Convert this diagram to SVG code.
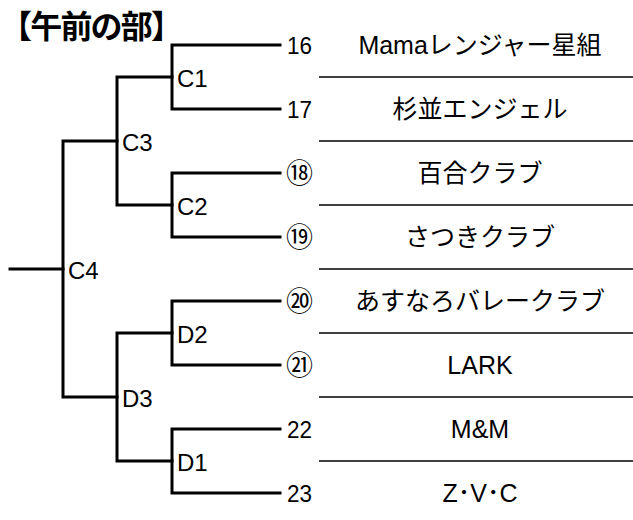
<svg xmlns="http://www.w3.org/2000/svg" width="633" height="520" viewBox="0 0 633 520">
<style>
.br{fill:none;stroke:#000;stroke-width:3;stroke-linecap:square;stroke-linejoin:miter}
.dv{stroke:#000;stroke-width:1.5}
.lb{font-family:"Liberation Sans","Noto Sans CJK JP",sans-serif;font-size:24px;fill:#000}
.num{font-family:"Liberation Sans","Noto Sans CJK JP",sans-serif;font-size:24px;fill:#000}
.cn{font-family:"Noto Sans CJK JP",sans-serif;font-size:27px;fill:#000}
.nm{font-family:"Liberation Sans","Noto Sans CJK JP",sans-serif;font-size:25px;fill:#000;text-anchor:middle}
.tt{font-family:"Noto Sans CJK JP",sans-serif;font-size:32px;font-weight:bold;fill:#000}
</style>
<rect width="633" height="520" fill="#fff"/>
<text class="tt" x="0" y="38" textLength="183" lengthAdjust="spacing">【午前の部】</text>
<g id="connectors">
<path class="br" d="M280,45 H172 V109 H280"/>
<path class="br" d="M280,173 H172 V237 H280"/>
<path class="br" d="M280,301 H172 V365 H280"/>
<path class="br" d="M280,429 H172 V493 H280"/>
<path class="br" d="M172,77 H117 V205 H172"/>
<path class="br" d="M172,333 H117 V461 H172"/>
<path class="br" d="M117,141 H63 V397 H117"/>
<path class="br" d="M10,269 H63"/>
</g>
<g id="dividers">
<line class="dv" x1="319" y1="77" x2="633" y2="77"/>
<line class="dv" x1="319" y1="141" x2="633" y2="141"/>
<line class="dv" x1="319" y1="205" x2="633" y2="205"/>
<line class="dv" x1="319" y1="269" x2="633" y2="269"/>
<line class="dv" x1="319" y1="333" x2="633" y2="333"/>
<line class="dv" x1="319" y1="397" x2="633" y2="397"/>
<line class="dv" x1="319" y1="461" x2="633" y2="461"/>
</g>
<g id="C1"><text class="lb" x="177" y="87">C1</text></g>
<g id="C2"><text class="lb" x="177" y="215">C2</text></g>
<g id="C3"><text class="lb" x="122" y="151">C3</text></g>
<g id="C4"><text class="lb" x="68" y="279">C4</text></g>
<g id="D2"><text class="lb" x="177" y="343">D2</text></g>
<g id="D1"><text class="lb" x="177" y="471">D1</text></g>
<g id="D3"><text class="lb" x="122" y="407">D3</text></g>
<g id="t16"><text class="num" x="287" y="54" textLength="25" lengthAdjust="spacingAndGlyphs">16</text><text class="nm" x="480" y="54">Mamaレンジャー星組</text></g>
<g id="t17"><text class="num" x="287" y="118" textLength="25" lengthAdjust="spacingAndGlyphs">17</text><text class="nm" x="480" y="118">杉並エンジェル</text></g>
<g id="t18"><text class="cn" x="286" y="183">⑱</text><text class="nm" x="480" y="182">百合クラブ</text></g>
<g id="t19"><text class="cn" x="286" y="247">⑲</text><text class="nm" x="480" y="246">さつきクラブ</text></g>
<g id="t20"><text class="cn" x="286" y="311">⑳</text><text class="nm" x="480" y="310">あすなろバレークラブ</text></g>
<g id="t21"><text class="cn" x="286" y="375">㉑</text><text class="nm" x="480" y="374">LARK</text></g>
<g id="t22"><text class="num" x="287" y="438" textLength="25" lengthAdjust="spacingAndGlyphs">22</text><text class="nm" x="480" y="438">M&amp;M</text></g>
<g id="t23"><text class="num" x="287" y="502" textLength="25" lengthAdjust="spacingAndGlyphs">23</text><text class="nm" x="480" y="502">Z･V･C</text></g>
</svg>
